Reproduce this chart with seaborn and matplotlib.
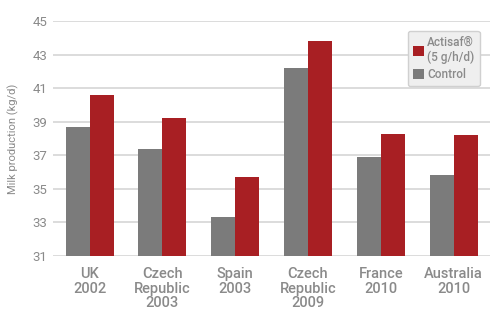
import matplotlib
matplotlib.use("Agg")
import matplotlib.pyplot as plt
import seaborn as sns
import pandas as pd
from matplotlib.patches import Patch

categories = ["UK\n2002", "Czech\nRepublic\n2003", "Spain\n2003", "Czech\nRepublic\n2009", "France\n2010", "Australia\n2010"]
control = [38.7, 37.4, 33.3, 42.2, 36.9, 35.8]
actisaf = [40.6, 39.2, 35.7, 43.8, 38.3, 38.2]
series_names = ["Control", "Actisaf®\n(5 g/h/d)"]
yticks = [31, 33, 35, 37, 39, 41, 43, 45]

rows = []
for c, v in zip(categories, control):
    rows.append({"cat": c, "series": series_names[0], "val": v})
for c, v in zip(categories, actisaf):
    rows.append({"cat": c, "series": series_names[1], "val": v})
df = pd.DataFrame(rows)

sns.set_style("white")
plt.rcParams['font.family'] = ['Roboto', 'DejaVu Sans']

gray = "#7b7b7b"
red = "#a81f23"
txt = "#8a8a8a"
grid = "#d9d9d9"

fig = plt.figure(figsize=(4.92, 3.11), dpi=100)
ax = fig.add_axes([0.108, 0.177, 0.888, 0.755])

for y in yticks:
    ax.axhline(y, color=grid, lw=1.3, zorder=0)

sns.barplot(data=df, x="cat", y="val", hue="series", palette=[gray, red],
            width=0.66, gap=0, saturation=1, ax=ax, legend=False, zorder=2,
            edgecolor="none", linewidth=0)

ax.set_ylim(31, 45)
ax.set_xlim(-0.5, 5.5)
ax.set_yticks(yticks)
ax.set_yticklabels([str(t) for t in yticks], fontsize=9.5, color=txt)
ax.tick_params(axis="x", labelsize=10.5, colors=txt, length=0, pad=8)
ax.tick_params(axis="y", length=0, pad=4)
for lab in ax.get_xticklabels():
    lab.set_linespacing(1.05)
    lab.set_fontweight("medium")
ax.set_xlabel("")
ax.set_ylabel("Milk production (kg/d)", fontsize=8, color=txt, labelpad=10)
for s in ax.spines.values():
    s.set_visible(False)

handles = [Patch(facecolor=red, edgecolor="none"), Patch(facecolor=gray, edgecolor="none")]
leg = ax.legend(handles, [series_names[1], series_names[0]], loc="upper right",
                bbox_to_anchor=(0.99, 0.985), frameon=True, fontsize=8.5,
                handlelength=0.9, handleheight=0.9, handletextpad=0.3,
                labelspacing=0.3, borderpad=0.45, fancybox=True)
leg.get_frame().set_facecolor("#efefef")
leg.get_frame().set_edgecolor("#d0d0d0")
leg.get_frame().set_alpha(1)
for t in leg.get_texts():
    t.set_color(txt)
    t.set_fontweight("medium")

fig.savefig("out.png", dpi=100)
